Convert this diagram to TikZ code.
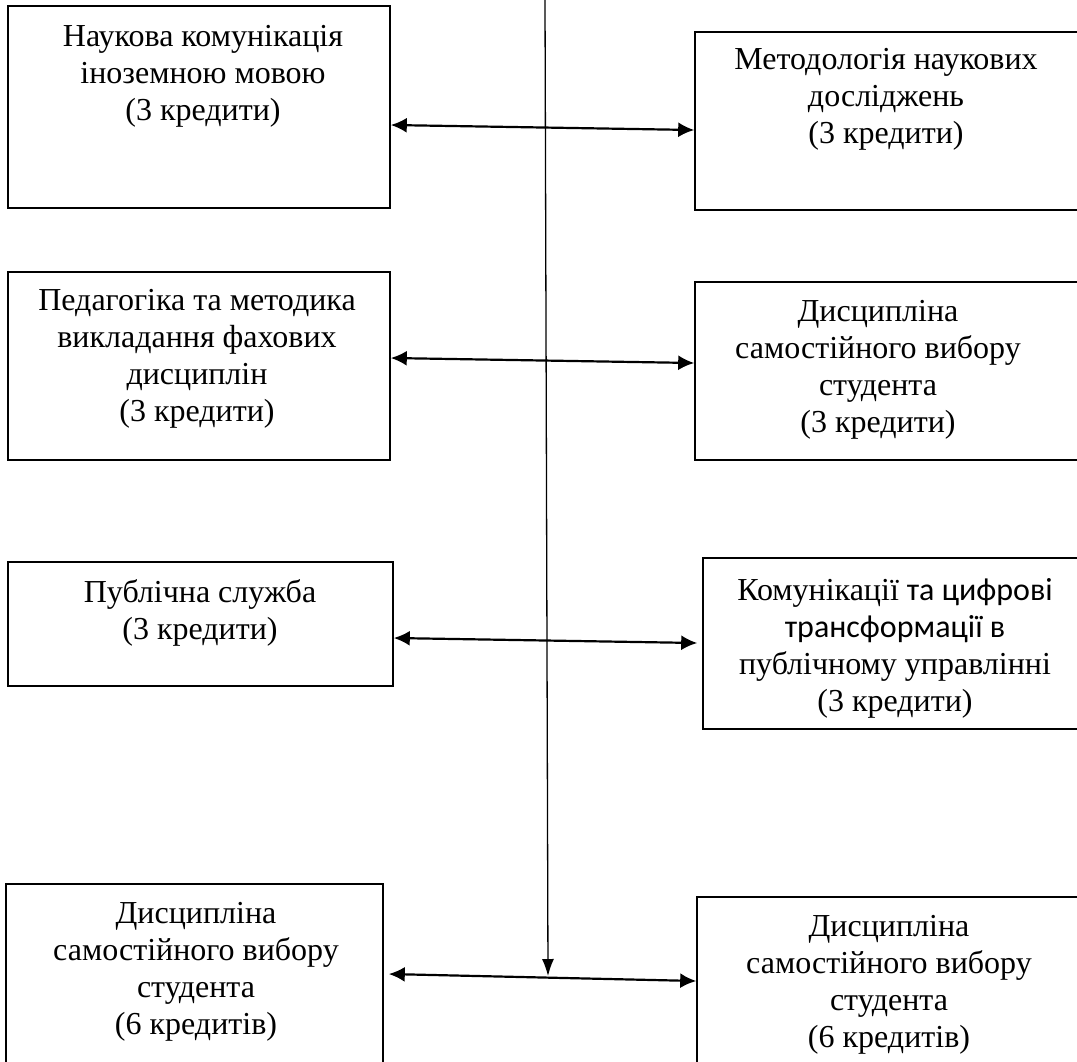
\documentclass[tikz,border=0pt]{standalone}
\usepackage{fontspec}
\setmainfont{Liberation Serif}
\newfontfamily\carlito{Carlito}
\usetikzlibrary{arrows.meta}

\tikzset{
  box/.style={draw, line width=1.6pt, rectangle, inner sep=0pt},
  txt/.style={align=center, inner sep=0pt, font=\fontsize{32}{37}\selectfont},
  dbl/.style={{Latex[length=16pt,width=15pt]}-{Latex[length=16pt,width=15pt]}, line width=2.2pt},
  down/.style={-{Latex[length=17pt,width=12pt]}, line width=1.3pt}
}

\begin{document}
\begin{tikzpicture}[x=1pt, y=-1pt]
  \clip (0,0) rectangle (1077,1061);

  % boxes, left column
  \node[box, minimum width=382pt, minimum height=202pt] (nk)   at (199,107) {};
  \node[box, minimum width=382pt, minimum height=188pt] (ped)  at (199,366) {};
  \node[box, minimum width=385pt, minimum height=124pt] (ps)   at (200.5,624) {};
  \node[box, minimum width=377pt, minimum height=190pt] (dsvl) at (194.5,979) {};

  % boxes, right column
  \node[box, minimum width=390pt, minimum height=178pt] (mnd)  at (890,121) {};
  \node[box, minimum width=390pt, minimum height=178pt] (dsv)  at (890,371) {};
  \node[box, minimum width=382pt, minimum height=171pt] (kct)  at (894,643.5) {};
  \node[box, minimum width=388pt, minimum height=178pt] (dsvr) at (891,986) {};

  % texts
  \node[txt] (nk-t)   at (203,76)  {Наукова комунікація\\іноземною мовою\\(3 кредити)};
  \node[txt] (ped-t)  at (197,359) {Педагогіка та методика\\викладання фахових\\дисциплін\\(3 кредити)};
  \node[txt] (ps-t)   at (200,613) {Публічна служба\\(3 кредити)};
  \node[txt] (dsvl-t) at (196,972) {Дисципліна\\самостійного вибору\\студента\\(6 кредитів)};
  \node[txt] (mnd-t)  at (886,99)  {Методологія наукових\\досліджень\\(3 кредити)};
  \node[txt] (dsv-t)  at (878,370) {Дисципліна\\самостійного вибору\\студента\\(3 кредити)};
  \node[txt] (kct-t)  at (895,648) {Комунікації {\carlito та цифрові}\\{\carlito трансформації в}\\публічному управлінні\\(3 кредити)};
  \node[txt] (dsvr-t) at (889,985) {Дисципліна\\самостійного вибору\\студента\\(6 кредитів)};

  % central line
  \coordinate (top) at (545,0);
  \coordinate (mid) at (548,976);
  \draw[down] (top) -- (mid);

  % links
  \draw[dbl] (nk.east |- 0,125) -- (mnd.west |- 0,130);
  \draw[dbl] (ped.east |- 0,358) -- (dsv.west |- 0,363);
  \draw[dbl] (ps.east |- 0,638) -- ([xshift=-5pt]kct.west |- 0,643);
  \draw[dbl] ([xshift=5pt]dsvl.east |- 0,974) -- (dsvr.west |- 0,981);
\end{tikzpicture}
\end{document}
